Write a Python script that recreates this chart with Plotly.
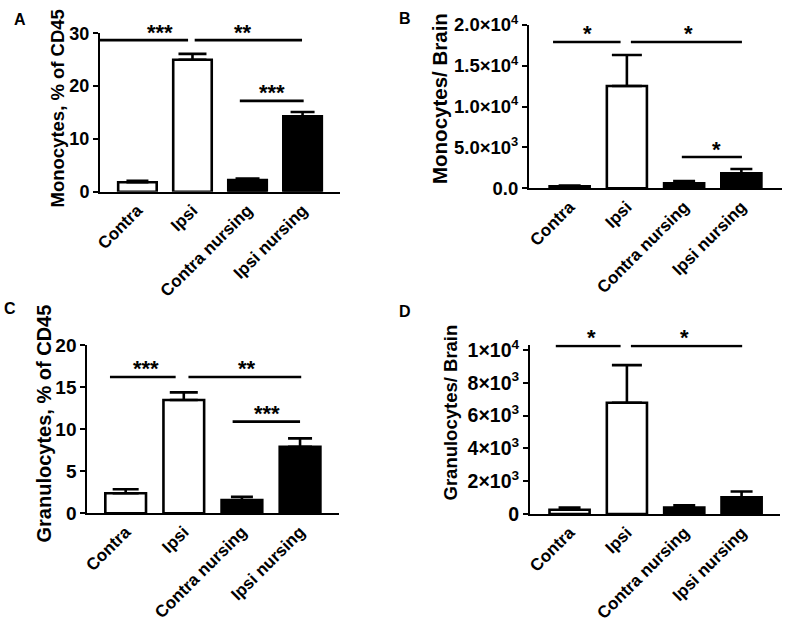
import plotly.graph_objects as go

# ---------------- data ----------------
categories = ["Contra", "Ipsi", "Contra nursing", "Ipsi nursing"]
bar_fills = ["white", "white", "black", "black"]

mono_pct = [1.8, 25.0, 2.2, 14.3]
mono_pct_err = [0.25, 1.1, 0.3, 0.8]

mono_brain = [250, 12530, 610, 1840]
mono_brain_err = [80, 3800, 280, 520]

gran_pct = [2.38, 13.46, 1.58, 7.91]
gran_pct_err = [0.47, 0.91, 0.39, 0.99]

gran_brain = [260, 6780, 390, 1020]
gran_brain_err = [130, 2300, 140, 350]

ticks_A = [0, 10, 20, 30]
ticklabels_A = ["0", "10", "20", "30"]
ticks_B = [0, 5000, 10000, 15000, 20000]
ticklabels_B = ["0.0", "5.0×10<sup>3</sup>", "1.0×10<sup>4</sup>", "1.5×10<sup>4</sup>", "2.0×10<sup>4</sup>"]
ticks_C = [0, 5, 10, 15, 20]
ticklabels_C = ["0", "5", "10", "15", "20"]
ticks_D = [0, 2000, 4000, 6000, 8000, 10000]
ticklabels_D = ["0", "2×10<sup>3</sup>", "4×10<sup>3</sup>", "6×10<sup>3</sup>", "8×10<sup>3</sup>", "1×10<sup>4</sup>"]

# significance brackets: (x start, x end, y, stars, star x)
sig_A = [(-0.75, 0.92, 28.7, "***", 0.41), (1.04, 2.99, 28.7, "**", 1.92), (1.86, 3.02, 17.2, "***", 2.45)]
sig_B = [(-0.29, 0.89, 17920, "*", 0.32), (1.07, 3.01, 17920, "*", 2.07), (1.96, 3.01, 3830, "*", 2.57)]
sig_C = [(-0.27, 0.86, 16.2, "***", 0.35), (1.08, 3.02, 16.2, "**", 2.09), (1.84, 3.0, 10.9, "***", 2.43)]
sig_D = [(-0.24, 0.89, 10245, "*", 0.375), (1.07, 3.01, 10245, "*", 2.0)]

titles = ["Monocytes, % of CD45", "Monocytes/ Brain", "Granulocytes, % of CD45", "Granulocytes/ Brain"]
letters = ["A", "B", "C", "D"]

# ---------------- layout geometry ----------------
W, H = 787, 629
FONT = "Liberation Sans, Arial, sans-serif"

def px_x(p):
    return p / W

def px_y(p):
    return 1 - p / H

panels = [
    dict(vals=mono_pct, errs=mono_pct_err, sig=sig_A, ticks=ticks_A, labels=ticklabels_A,
         xdom=[px_x(100), px_x(340)], ydom=[px_y(191.7), px_y(33.3)], yr=[0, 30], xr=[-0.68, 3.68],
         tickfs=18, title_fs=18.5, title_xy=(57, 108.5), letter_xy=(20, 20), capw=[11, 14, 12, 12]),
    dict(vals=mono_brain, errs=mono_brain_err, sig=sig_B, ticks=ticks_B, labels=ticklabels_B,
         xdom=[px_x(529), px_x(782)], ydom=[px_y(188.3), px_y(25)], yr=[0, 20000], xr=[-0.71, 3.71],
         tickfs=18.5, title_fs=20.5, title_xy=(439, 99), letter_xy=(405, 19), capw=[11, 15, 11, 11]),
    dict(vals=gran_pct, errs=gran_pct_err, sig=sig_C, ticks=ticks_C, labels=ticklabels_C,
         xdom=[px_x(87.3), px_x(339)], ydom=[px_y(513.3), px_y(345)], yr=[0, 20], xr=[-0.66, 3.67],
         tickfs=19, title_fs=20, title_xy=(43, 423.5), letter_xy=(10, 308.5), capw=[13, 14, 11, 12]),
    dict(vals=gran_brain, errs=gran_brain_err, sig=sig_D, ticks=ticks_D, labels=ticklabels_D,
         xdom=[px_x(530), px_x(780)], ydom=[px_y(514), px_y(344.6)], yr=[0, 10330], xr=[-0.69, 3.67],
         tickfs=19.5, title_fs=18.5, title_xy=(450, 412.5), letter_xy=(405, 312), capw=[11, 15, 11, 11]),
]

fig = go.Figure()
layout = dict(
    template="none",
    width=W, height=H, margin=dict(l=0, r=0, t=0, b=0, pad=0, autoexpand=False),
    paper_bgcolor="white", plot_bgcolor="white",
    barmode="overlay", showlegend=False,
    font=dict(family=FONT, color="black"),
)
shapes = []
annotations = []

for i, p in enumerate(panels):
    n = i + 1
    xa = "x" if n == 1 else f"x{n}"
    ya = "y" if n == 1 else f"y{n}"
    for j, cat in enumerate(categories):
        fig.add_trace(go.Bar(
            x=[cat], y=[p["vals"][j]], width=0.7,
            marker=dict(color=bar_fills[j], line=dict(color="black", width=2.6)),
            error_y=dict(type="data", array=[p["errs"][j]], arrayminus=[0],
                         color="black", thickness=2.6, width=p["capw"][j]),
            xaxis=xa, yaxis=ya, hoverinfo="skip",
        ))
    layout[f"xaxis{'' if n == 1 else n}"] = dict(
        domain=p["xdom"], range=p["xr"], anchor=ya, type="category", automargin=False,
        categoryorder="array", categoryarray=categories,
        showline=True, linewidth=2, linecolor="black", ticks="",
        showgrid=False, zeroline=False, tickangle=-45,
        tickfont=dict(family=FONT, size=17, color="black", weight="bold"),
    )
    layout[f"yaxis{'' if n == 1 else n}"] = dict(
        domain=p["ydom"], range=p["yr"], anchor=xa, automargin=False,
        showline=True, linewidth=2, linecolor="black",
        ticks="outside", ticklen=5, tickwidth=2, tickcolor="black",
        tickvals=p["ticks"], ticktext=p["labels"],
        showgrid=False, zeroline=False,
        tickfont=dict(family=FONT, size=p["tickfs"], color="black", weight="bold"),
    )
    for (x0, x1, yv, stars, sx) in p["sig"]:
        shapes.append(dict(type="line", xref=xa, yref=ya, x0=x0, x1=x1, y0=yv, y1=yv,
                           line=dict(color="black", width=2.6)))
        annotations.append(dict(xref=xa, yref=ya, x=sx, y=yv, text=stars, showarrow=False,
                                xanchor="center", yanchor="middle", yshift=8,
                                font=dict(family=FONT, size=22, color="black", weight="bold")))
    tx, ty = p["title_xy"]
    annotations.append(dict(xref="paper", yref="paper", x=px_x(tx), y=px_y(ty), text=titles[i],
                            textangle=-90, showarrow=False, xanchor="center", yanchor="middle",
                            font=dict(family=FONT, size=p["title_fs"], color="black", weight="bold")))
    lx, ly = p["letter_xy"]
    annotations.append(dict(xref="paper", yref="paper", x=px_x(lx), y=px_y(ly), text=letters[i],
                            showarrow=False, xanchor="center", yanchor="middle",
                            font=dict(family=FONT, size=16, color="black", weight="bold")))

layout["shapes"] = shapes
layout["annotations"] = annotations
fig.update_layout(**layout)
fig.write_html("out.html", config={"displayModeBar": False},
               post_script="document.body.style.margin='0';document.body.style.overflow='hidden';")
